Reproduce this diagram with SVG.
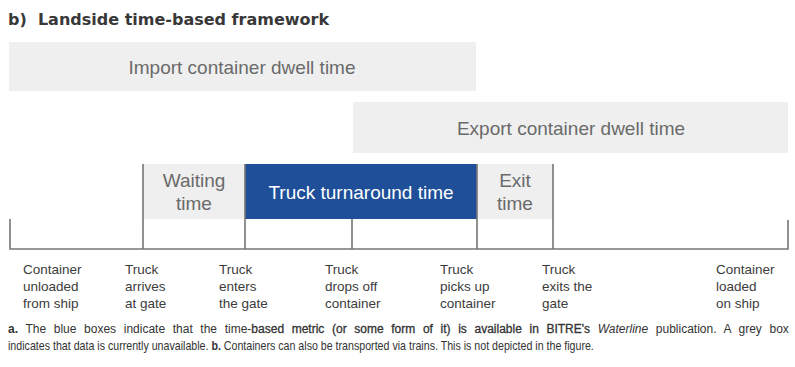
<svg xmlns="http://www.w3.org/2000/svg" width="795" height="367" viewBox="0 0 795 367">
  <style>
    .title { font-family: "DejaVu Sans", Verdana, sans-serif; font-weight: bold; font-size: 16px; fill: #383838; }
    .bar { fill: #efefef; }
    .blue { fill: #1e4f98; }
    .bartext { font-family: "Liberation Sans", Arial, sans-serif; font-size: 19px; fill: #6a6a6a; text-anchor: middle; }
    .bluetext { font-family: "Liberation Sans", Arial, sans-serif; font-size: 19px; fill: #ffffff; text-anchor: middle; }
    .axis { stroke: #767676; stroke-width: 1.6; fill: none; }
    .lbl { font-family: "Liberation Sans", Arial, sans-serif; font-size: 13.5px; fill: #3c3c3c; }
    .note { font-family: "Liberation Sans", Arial, sans-serif; font-size: 12px; fill: #333333; }
    .b { font-weight: bold; }
    .semi { stroke: #333333; stroke-width: 0.3; }
  </style>

  <text class="title" x="8" y="25" xml:space="preserve">b)  Landside time-based framework</text>

  <g id="import-dwell">
    <rect class="bar" x="9" y="42" width="467" height="49"/>
    <text class="bartext" x="242" y="74">Import container dwell time</text>
  </g>

  <g id="export-dwell">
    <rect class="bar" x="353" y="102" width="435" height="51"/>
    <text class="bartext" x="571" y="135">Export container dwell time</text>
  </g>

  <g id="waiting-time">
    <rect class="bar" x="143" y="164" width="102" height="55"/>
    <text class="bartext" x="194" y="187">Waiting</text>
    <text class="bartext" x="194" y="210">time</text>
  </g>

  <g id="truck-turnaround">
    <rect class="blue" x="245" y="164" width="232" height="55"/>
    <text class="bluetext" x="361" y="199">Truck turnaround time</text>
  </g>

  <g id="exit-time">
    <rect class="bar" x="477" y="164" width="76" height="55"/>
    <text class="bartext" x="515" y="187">Exit</text>
    <text class="bartext" x="515" y="210">time</text>
  </g>

  <g id="timeline">
    <path class="axis" d="M10 219 V249 H788 V220"/>
    <path class="axis" d="M143 164 V249 M245 164 V249 M352 219 V249 M477 164 V249 M553 164 V249"/>
  </g>

  <g id="events">
    <g id="ev-unloaded">
      <text class="lbl" x="23" y="274">Container</text>
      <text class="lbl" x="23" y="291">unloaded</text>
      <text class="lbl" x="23" y="308">from ship</text>
    </g>
    <g id="ev-arrives">
      <text class="lbl" x="125" y="274">Truck</text>
      <text class="lbl" x="125" y="291">arrives</text>
      <text class="lbl" x="125" y="308">at gate</text>
    </g>
    <g id="ev-enters">
      <text class="lbl" x="219" y="274">Truck</text>
      <text class="lbl" x="219" y="291">enters</text>
      <text class="lbl" x="219" y="308">the gate</text>
    </g>
    <g id="ev-drops">
      <text class="lbl" x="325" y="274">Truck</text>
      <text class="lbl" x="325" y="291">drops off</text>
      <text class="lbl" x="325" y="308">container</text>
    </g>
    <g id="ev-picks">
      <text class="lbl" x="440" y="274">Truck</text>
      <text class="lbl" x="440" y="291">picks up</text>
      <text class="lbl" x="440" y="308">container</text>
    </g>
    <g id="ev-exits">
      <text class="lbl" x="542" y="274">Truck</text>
      <text class="lbl" x="542" y="291">exits the</text>
      <text class="lbl" x="542" y="308">gate</text>
    </g>
    <g id="ev-loaded">
      <text class="lbl" x="716" y="274">Container</text>
      <text class="lbl" x="716" y="291">loaded</text>
      <text class="lbl" x="716" y="308">on ship</text>
    </g>
  </g>

  <!-- footnotes: first line justified to full width, second line condensed -->
  <g id="notes">
    <text class="note" x="8" y="333" word-spacing="4.3"><tspan class="b">a.</tspan> The blue boxes indicate that the time-<tspan class="semi">based metric (or some form of it) is available in BITRE's</tspan> <tspan font-style="italic">Waterline</tspan> publication. A grey box</text>
    <g transform="translate(8,0) scale(0.888,1)">
      <text class="note" x="0" y="350"><tspan>indicates that data is currently unavailable.</tspan> <tspan class="b">b.</tspan> <tspan>Containers can also be transported via trains. This is not depicted in the figure.</tspan></text>
    </g>
  </g>
</svg>
